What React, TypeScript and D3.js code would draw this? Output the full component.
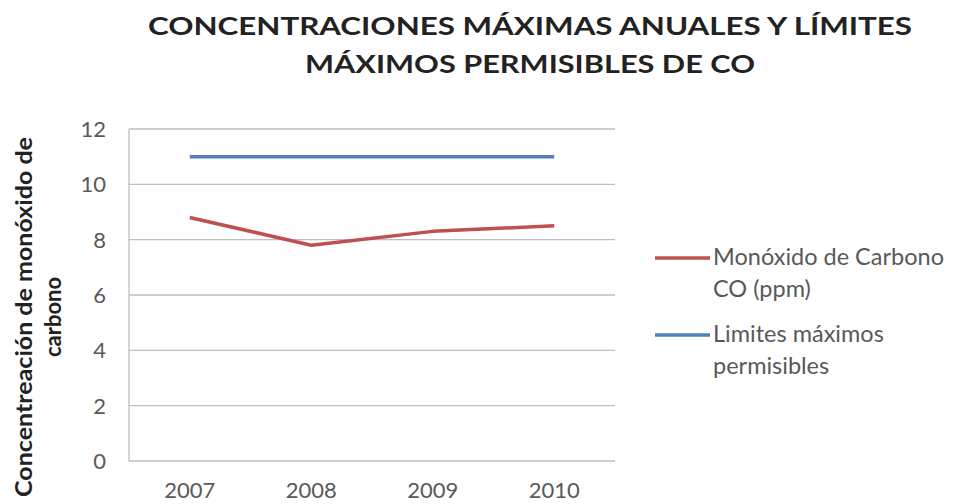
import React from "react";
import * as d3 from "d3";

const years = ["2007", "2008", "2009", "2010"];
const coValues = [8.8, 7.8, 8.3, 8.5];
const limitValues = [11, 11, 11, 11];
const yTicks = [0, 2, 4, 6, 8, 10, 12];
const titleLines = ["CONCENTRACIONES MÁXIMAS ANUALES Y LÍMITES", "MÁXIMOS PERMISIBLES DE CO"];
const yTitleLines = ["Concentreación de monóxido de", "carbono"];
const seriesNames = [["Monóxido de Carbono", "CO (ppm)"], ["Limites máximos", "permisibles"]];
const colors = ["#C0504D", "#4F81BD"];

const W = 971, H = 504;
const plot = { left: 129, right: 615, top: 129, bottom: 461 };
const FONT = "Lato, 'Open Sans', sans-serif";

export default function App() {
  const x = d3.scaleBand().domain(years).range([plot.left, plot.right]);
  const y = d3.scaleLinear().domain([0, 12]).range([plot.bottom, plot.top]);
  const line = d3
    .line<number>()
    .x((_, i) => (x(years[i]) as number) + x.bandwidth() / 2)
    .y((d) => y(d));
  const series = [coValues, limitValues];
  return (
    <svg width={W} height={H} style={{ position: "absolute", left: 0, top: 0, background: "#fff" }}>
      <rect width={W} height={H} fill="#fff" />
      {titleLines.map((t, i) => (
        <text
          key={t}
          x={530}
          y={35 + i * 38}
          textAnchor="middle"
          fontFamily={FONT}
          fontWeight="bold"
          fontSize={25}
          fill="#222"
          textLength={i === 0 ? 764 : 450}
          lengthAdjust="spacingAndGlyphs"
        >
          {t}
        </text>
      ))}
      {yTicks.map((t) => (
        <line key={"g" + t} x1={plot.left} x2={plot.right} y1={y(t)} y2={y(t)} stroke="#BFBFBF" strokeWidth={1.3} />
      ))}
      <line x1={plot.left} x2={plot.left} y1={plot.top} y2={plot.bottom} stroke="#BFBFBF" strokeWidth={1.3} />
      {yTicks.map((t) => (
        <text key={"t" + t} x={106} y={y(t) + 8} textAnchor="end" fontFamily={FONT} fontSize={22} fill="#595959">
          {t}
        </text>
      ))}
      {years.map((yr) => (
        <text
          key={yr}
          x={(x(yr) as number) + x.bandwidth() / 2}
          y={498}
          textAnchor="middle"
          fontFamily={FONT}
          fontSize={22}
          fill="#595959"
        >
          {yr}
        </text>
      ))}
      {yTitleLines.map((t, i) => (
        <text
          key={t}
          transform={`translate(${32 + i * 29},317) rotate(-90)`}
          textAnchor="middle"
          fontFamily={FONT}
          fontWeight="bold"
          fontSize={22}
          fill="#222"
          textLength={i === 0 ? 360 : undefined}
          lengthAdjust="spacingAndGlyphs"
        >
          {t}
        </text>
      ))}
      {series.map((s, i) => (
        <path key={i} d={line(s) || ""} fill="none" stroke={colors[i]} strokeWidth={3.5} strokeLinejoin="round" />
      ))}
      {seriesNames.map((lines, i) => (
        <g key={i}>
          <line x1={655} x2={710} y1={258 + i * 77} y2={258 + i * 77} stroke={colors[i]} strokeWidth={3.5} />
          {lines.map((l, j) => (
            <text
              key={l}
              x={713}
              y={265 + i * 77 + j * 32}
              fontFamily={FONT}
              fontSize={23.5}
              fill="#595959"
            >
              {l}
            </text>
          ))}
        </g>
      ))}
    </svg>
  );
}
